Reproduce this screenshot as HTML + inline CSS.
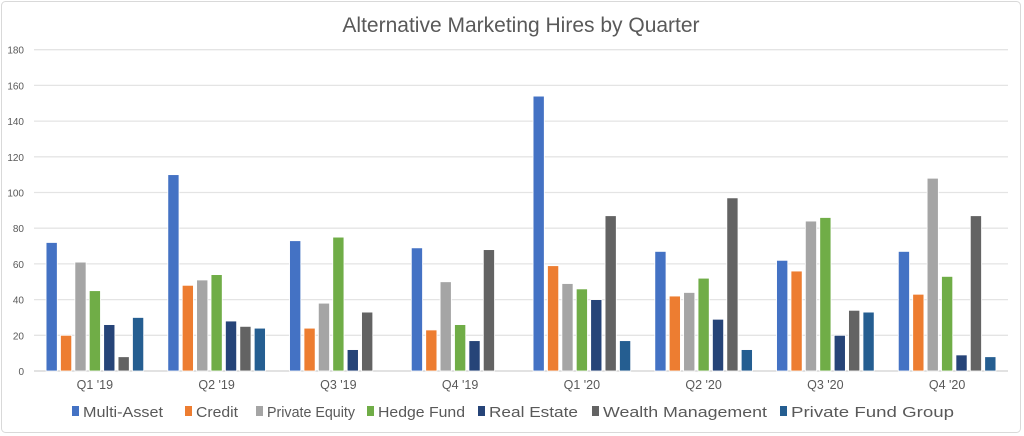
<!DOCTYPE html>
<html><head><meta charset="utf-8"><style>
html,body{margin:0;padding:0;background:#fff;}
svg{display:block;font-family:"Liberation Sans",Arial,sans-serif;}
</style></head><body>
<svg id="chart" width="1024" height="436" viewBox="0 0 1024 436">
<rect x="1.5" y="1.5" width="1019" height="431" rx="4" fill="#fff" stroke="#d9d9d9"/>
<text x="521" y="32" text-anchor="middle" font-size="21" fill="#595959">Alternative Marketing Hires by Quarter</text>
<g id="grid"></g><g id="bars"></g><g id="xlabels"></g><g id="legend"></g>
</svg>
<script>
const categories=["Q1 '19","Q2 '19","Q3 '19","Q4 '19","Q1 '20","Q2 '20","Q3 '20","Q4 '20"];
const seriesNames=["Multi-Asset","Credit","Private Equity","Hedge Fund","Real Estate","Wealth Management","Private Fund Group"];
const multiAsset=[72,110,73,69,154,67,62,67];
const credit=[20,48,24,23,59,42,56,43];
const privateEquity=[61,51,38,50,49,44,84,108];
const hedgeFund=[45,54,75,26,46,52,86,53];
const realEstate=[26,28,12,17,40,29,20,9];
const wealthMgmt=[8,25,33,68,87,97,34,87];
const privateFundGroup=[30,24,0,0,17,12,33,8];
const yTicks=[0,20,40,60,80,100,120,140,160,180];
const series=[multiAsset,credit,privateEquity,hedgeFund,realEstate,wealthMgmt,privateFundGroup];
const colors=["#4472C4","#ED7D31","#A5A5A5","#70AD47","#264478","#636363","#255E91"];
const NS="http://www.w3.org/2000/svg";
const x0=34,x1=1008,yTop=49.7,yBot=371,yMax=180;
const y=v=>yBot-(v/yMax)*(yBot-yTop);
const band=(x1-x0)/categories.length;
const pitch=14.4,bw=11.2;
function mk(tag,attrs,parent){const e=document.createElementNS(NS,tag);for(const k in attrs)e.setAttribute(k,attrs[k]);parent.appendChild(e);return e;}
const grid=document.getElementById('grid');
yTicks.forEach(t=>{
  const l=mk('line',{x1:x0,x2:x1,y1:y(t),y2:y(t),stroke:t===0?'#d0d0d0':'#e4e4e4','stroke-width':1.3},grid);
  
  
  const tx=mk('text',{x:24,y:y(t)+4,'text-anchor':'end','font-size':10,fill:'#595959'},grid);
  tx.textContent=t;
  
  
});
const bars=document.getElementById('bars');
categories.forEach((c,i)=>{
  const cx=x0+band*(i+0.5);
  series.forEach((s,j)=>{
    const v=s[i]; if(!v) return;
    const bx=cx+(j-3)*pitch-bw/2;
    const r=mk('rect',{x:bx,y:y(v),width:bw,height:yBot-y(v),fill:colors[j],stroke:'#fff','stroke-width':0.8},bars);
    
    
  });
  const t=mk('text',{x:cx,y:389,'text-anchor':'middle','font-size':12.5,fill:'#595959'},document.getElementById('xlabels'));
  t.textContent=c;
  
  
});
const legendX=[72,185,256,367,478,592,780];
const legendW=[80,42,88,87,89,164,163];
const lg=document.getElementById('legend');
seriesNames.forEach((n,j)=>{
  const g=mk('g',{},lg);
  
  
  mk('rect',{x:legendX[j],y:406,width:7,height:10,fill:colors[j]},g);
  const t=mk('text',{x:legendX[j]+11,y:417,'font-size':15,fill:'#595959',textLength:legendW[j],lengthAdjust:'spacingAndGlyphs'},g);
  t.textContent=n;
});
</script>
</body></html>
